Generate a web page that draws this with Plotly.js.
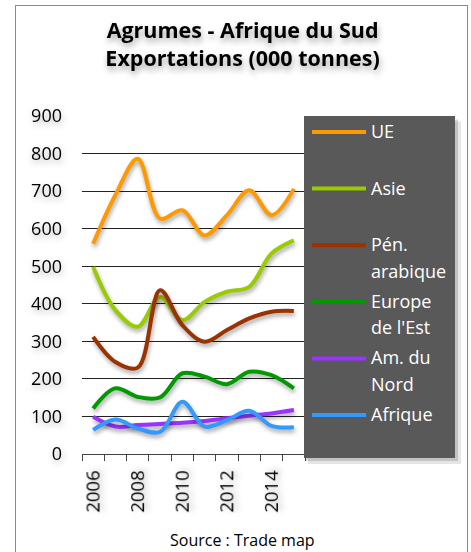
<!DOCTYPE html>
<html><head><meta charset="utf-8">
<script src="https://cdn.plot.ly/plotly-3.0.1.min.js"></script>
<style>
html,body{margin:0;padding:0;background:#fff;}
#wrap{position:relative;width:471px;height:552px;overflow:hidden;}
#chart{position:absolute;left:0;top:0;width:471px;height:552px;}
#frame{position:absolute;left:15px;top:5px;width:451px;height:600px;border:1px solid #8a8a8a;pointer-events:none;}
.scatterlayer .js-line{filter:drop-shadow(1px 3px 2px rgba(0,0,0,0.35));}
.gtitle{filter:drop-shadow(1px 4px 3px rgba(0,0,0,0.35));}
.ytick text,.xtick text{filter:drop-shadow(1px 3px 3px rgba(0,0,0,0.3));}
</style></head>
<body><div id="wrap"><div id="chart"></div><div id="frame"></div></div>
<script>
const years = [2006, 2007, 2008, 2009, 2010, 2011, 2012, 2013, 2014, 2015];
const labelYears = [2006, 2008, 2010, 2012, 2014];
const ue       = [560, 690, 786, 627, 649, 582, 636, 702, 636, 706];
const asie     = [498, 383, 339, 418, 356, 405, 432, 445, 534, 569];
const penArab  = [312, 245, 230, 436, 343, 299, 330, 361, 379, 381];
const europeEst= [121, 175, 152, 151, 215, 206, 186, 219, 210, 175];
const amNord   = [99, 73, 77, 80, 83, 88, 95, 102, 108, 117];
const afrique  = [64, 92, 68, 59, 139, 73, 90, 115, 75, 71];
const yTicks = [0, 100, 200, 300, 400, 500, 600, 700, 800, 900];

const names  = ['UE', 'Asie', 'Pén.<br>arabique', "Europe<br>de l'Est", 'Am. du<br>Nord', 'Afrique'];
const series = [ue, asie, penArab, europeEst, amNord, afrique];
const colors = ['#FF9900', '#99CC00', '#993300', '#009900', '#9933FF', '#3399FF'];

// plot area in pixels
const L = 82, R = 305, T = 115.5, B = 454, W = 471, H = 552;
const px = x => (x - L) / (R - L);
const py = y => (B - y) / (B - T);

const traces = series.map((s, i) => ({
  x: years, y: s, type: 'scatter', mode: 'lines', name: names[i],
  line: {color: colors[i], width: 4, shape: 'spline', smoothing: 1},
  hoverinfo: 'skip'
}));

const shapes = [];
const annotations = [];
// legend shadow + box
shapes.push({type:'rect', xref:'paper', yref:'paper', x0:px(308), x1:px(461), y0:py(121), y1:py(464), fillcolor:'rgba(0,0,0,0.10)', line:{width:0}, layer:'above'});
shapes.push({type:'rect', xref:'paper', yref:'paper', x0:px(306), x1:px(458), y0:py(119), y1:py(461), fillcolor:'rgba(0,0,0,0.15)', line:{width:0}, layer:'above'});
shapes.push({type:'rect', xref:'paper', yref:'paper', x0:px(304), x1:px(455), y0:py(115.5), y1:py(458), fillcolor:'#595959', line:{width:0}, layer:'above'});
names.forEach((n, i) => {
  const yc = 131.5 + i * 56.7;
  shapes.push({type:'line', xref:'paper', yref:'paper', x0:px(312), x1:px(366), y0:py(yc), y1:py(yc), line:{color:colors[i], width:4}, layer:'above'});
  n.split('<br>').forEach((part, k) => {
    annotations.push({xref:'paper', yref:'paper', x:px(369), y:py(yc + k * 26.5 - 1), xanchor:'left', yanchor:'middle',
      text: part, showarrow:false, font:{family:'Open Sans', size:18, color:'#ffffff'}});
  });
});
annotations.push({xref:'paper', yref:'paper', x:px(242), y:py(540), xanchor:'center', yanchor:'middle',
  text:'Source : Trade map', showarrow:false, font:{family:'Open Sans', size:16, color:'#000'}});

const layout = {
  width: W, height: H,
  margin: {l: L, r: W - R, t: T, b: H - B, pad: 0},
  paper_bgcolor: '#fff', plot_bgcolor: '#fff',
  showlegend: false,
  title: {text: 'Agrumes - Afrique du Sud<br>Exportations (000 tonnes)', x: 0.515, xanchor: 'center', y: 0.931, yanchor: 'top',
    font: {family: 'Open Sans', size: 21.5, color: '#000', weight: 'bold'}},
  xaxis: {
    range: [2005.5, 2015.5], tickmode: 'array', tickvals: labelYears, ticktext: labelYears.map(String),
    tickangle: -90, ticks: '', showgrid: false, zeroline: false,
    showline: true, linecolor: '#444', linewidth: 1,
    tickfont: {family: 'Open Sans', size: 18.5, color: '#000'},
    ticklabelstandoff: 8,
    minor: {tick0: 2005.5, dtick: 1, ticks: 'outside', ticklen: 6, tickcolor: '#444', tickwidth: 1, showgrid: false}
  },
  yaxis: {
    range: [0, 900], tickmode: 'array', tickvals: yTicks, ticks: '', showline: false, zeroline: false,
    showgrid: true, gridcolor: '#222', gridwidth: 1,
    tickfont: {family: 'Open Sans', size: 18, color: '#000'},
    ticklabelstandoff: 19
  },
  shapes: shapes, annotations: annotations
};
Plotly.newPlot('chart', traces, layout, {staticPlot: true, displayModeBar: false});
</script></body></html>
